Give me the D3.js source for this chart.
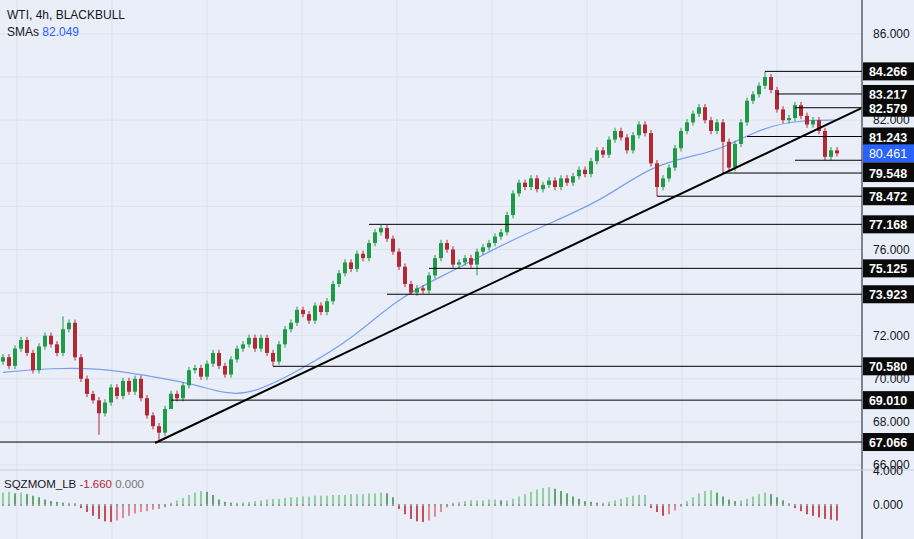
<!DOCTYPE html>
<html><head><meta charset="utf-8">
<script src="https://cdn.jsdelivr.net/npm/d3@7"></script>
<style>body{margin:0;background:#eaeef8}svg{display:block}text{font-family:"Liberation Sans",Arial,sans-serif}</style>
</head><body><svg id="c" width="914" height="539"></svg>
<script>
const closes=[71.0,70.6,71.4,71.8,71.2,70.4,71.5,72.0,71.6,71.2,72.3,72.6,71.0,70.0,69.3,69.0,68.4,68.9,69.6,69.2,69.9,69.4,70.0,69.1,68.3,67.8,67.5,68.6,69.3,69.1,69.7,70.4,70.5,70.1,70.7,71.2,70.6,70.2,70.9,71.4,71.6,71.9,71.4,71.9,71.2,70.8,71.6,72.3,72.6,73.2,73.0,72.7,73.4,73.1,73.6,74.4,74.9,75.4,75.1,75.8,75.6,76.3,76.8,77.0,76.5,75.9,75.2,74.4,74.0,74.2,74.1,74.8,75.6,76.3,76.0,75.3,75.4,75.6,75.3,75.9,76.1,76.3,76.6,76.8,77.6,78.6,79.1,78.9,79.3,78.8,79.0,79.2,78.9,79.3,79.1,79.4,79.7,79.5,80.1,80.6,80.4,81.1,81.5,81.2,80.6,81.3,81.8,81.4,80.0,78.9,79.3,79.8,80.7,81.5,81.9,82.3,82.6,82.0,81.5,81.9,81.0,79.8,80.9,81.9,82.9,83.2,83.6,84.0,83.4,82.5,82.0,82.1,82.7,82.2,81.8,82.0,81.5,80.3,80.6,80.46];
const firstOpen=70.8;
const wick=0.15;
const extremes=[{i:16,l:67.4},{i:26,l:67.066},{i:28,l:69.0},{i:45,l:70.58},{i:63,h:77.168},{i:68,l:73.923},{i:79,l:74.8},{i:109,l:78.472},{i:120,l:79.548},{i:127,h:84.266},{i:137,l:80.14},{i:10,h:72.9}];
const smaPts=[[0,70.3],[8,70.5],[16,70.5],[25,70.1],[33,69.7],[40,69.0],[50,70.5],[58,71.8],[66,73.8],[75,75.0],[83,76.2],[91,77.2],[100,78.3],[108,79.9],[116,80.4],[120,80.7],[127,81.7],[133,82.0],[139,82.0]];
const momentum=[1.6,1.7,1.5,1.6,1.4,1.2,1.0,0.7,0.5,0.4,0.3,0.3,0.2,-0.4,-0.9,-1.4,-1.8,-2.1,-2.2,-2.0,-1.7,-1.4,-1.1,-0.9,-0.8,-0.6,-0.5,-0.3,0.3,0.6,0.9,1.3,1.6,1.8,1.7,1.3,0.7,0.4,0.3,0.3,0.35,0.4,0.5,0.6,0.7,0.8,0.8,0.9,1.0,1.0,1.1,1.1,1.2,1.2,1.2,1.3,1.3,1.3,1.4,1.4,1.4,1.5,1.5,1.6,1.5,1.0,-0.5,-1.2,-1.8,-2.1,-2.2,-2.0,-1.5,-0.9,-0.3,0.3,0.4,0.5,0.6,0.6,0.6,0.7,0.7,0.6,0.6,0.8,1.1,1.4,1.7,2.0,2.2,2.3,2.1,1.8,1.5,1.1,0.8,0.5,0.4,0.3,0.3,0.4,0.6,0.8,1.0,1.2,1.3,1.3,-0.4,-0.9,-1.4,-1.2,-0.7,-0.2,0.5,1.0,1.5,1.8,1.9,1.6,1.1,0.7,0.5,0.6,0.8,1.1,1.4,1.6,1.4,1.0,0.6,0.2,-0.4,-0.8,-1.2,-1.4,-1.6,-1.8,-1.9,-2.0];
const levels=[{p:84.266,s:127},{p:83.217,s:129},{p:82.579,s:132},{p:81.243,s:124},{p:80.141,s:132},{p:79.548,s:120},{p:78.472,s:109},{p:77.168,s:61},{p:75.125,s:71},{p:73.923,s:64},{p:70.580,s:45},{p:69.010,s:28},{p:67.066,s:-1}];
const gridTicks=[86,84,82,80,78,76,74,72,70,68,66];
const priceTicks=[86,82,76,72,70,68,66];
const trend={i0:26,p0:67.066,i1:143,p1:82.55};
const lastPrice=80.461;

const svg=d3.select("#c");
const W=862,H=470;
const x=d3.scaleLinear().domain([0,139]).range([3,837]);
const y=d3.scaleLinear().domain([66,86]).range([465,34]);
const ym=d3.scaleLinear().domain([0,4]).range([505,474]);
svg.append("rect").attr("width",914).attr("height",539).attr("fill","#eaeef8");
const g=svg.append("g");
[17,112,207,302,397,492,587,682,777].forEach(v=>g.append("line").attr("x1",v).attr("x2",v).attr("y1",0).attr("y2",539).attr("stroke","#dde1ea"));
gridTicks.forEach(t=>g.append("line").attr("x1",0).attr("x2",W).attr("y1",y(t)).attr("y2",y(t)).attr("stroke","#dde1ea"));
const main=svg.append("g");
main.append("path").datum(smaPts).attr("fill","none").attr("stroke","#7b9ff0").attr("stroke-width",1.2)
 .attr("d",d3.line().x(d=>x(d[0])).y(d=>y(d[1])).curve(d3.curveBasis));
const candles=closes.map((c,i)=>{const o=i?closes[i-1]:firstOpen;let h=Math.max(o,c)+wick,l=Math.min(o,c)-wick;const e=extremes.find(e=>e.i===i);if(e){if(e.h)h=e.h;if(e.l)l=e.l;}return{i,o,c,h,l};});
const cg=main.selectAll("g.c").data(candles).join("g");
cg.append("line").attr("x1",d=>x(d.i)).attr("x2",d=>x(d.i)).attr("y1",d=>y(d.h)).attr("y2",d=>y(d.l)).attr("stroke",d=>d.c>=d.o?"#1f9a45":"#b22833");
cg.append("rect").attr("x",d=>x(d.i)-2).attr("width",4).attr("y",d=>y(Math.max(d.o,d.c))).attr("height",d=>Math.max(1,Math.abs(y(d.o)-y(d.c)))).attr("fill",d=>d.c>=d.o?"#1f9a45":"#b22833");
levels.forEach(l=>main.append("line").attr("x1",l.s<0?0:x(l.s)).attr("x2",W).attr("y1",y(l.p)).attr("y2",y(l.p)).attr("stroke","#000").attr("stroke-width",1));
main.append("line").attr("x1",x(trend.i0)-4).attr("y1",y(trend.p0)+1).attr("x2",x(trend.i1)).attr("y2",y(trend.p1)).attr("stroke","#000").attr("stroke-width",2);
const zs=ym(0);
svg.append("g").selectAll("rect").data(momentum).join("rect")
 .attr("x",(d,i)=>x(i)-1).attr("width",2)
 .attr("y",d=>d>=0?ym(d):zs).attr("height",d=>Math.abs(ym(d)-zs))
 .attr("fill",(d,i)=>{const p=i?momentum[i-1]:d;return d>=0?(d>=p?"#8fd19e":"#5fa56d"):(d<=p?"#c2505c":"#e08a95");});
svg.append("g").selectAll("rect").data(momentum).join("rect").attr("x",(d,i)=>x(i)-1).attr("width",2).attr("y",zs-1).attr("height",2).attr("fill","#9a9a9a");
svg.append("rect").attr("x",W).attr("y",0).attr("width",52).attr("height",539).attr("fill","#eaeef8");
svg.append("line").attr("x1",W).attr("x2",W).attr("y1",0).attr("y2",539).attr("stroke","#131722");
svg.append("line").attr("x1",0).attr("x2",914).attr("y1",470).attr("y2",470).attr("stroke","#c9ccd4");
priceTicks.forEach(t=>svg.append("text").attr("x",873).attr("y",y(t)+4).attr("font-size",12).attr("fill","#131722").text(t.toFixed(3)));
svg.append("text").attr("x",873).attr("y",ym(4)+1).attr("font-size",12).attr("fill","#131722").text("4.000");
svg.append("text").attr("x",873).attr("y",ym(0)+4).attr("font-size",12).attr("fill","#131722").text("0.000");
levels.filter(l=>l.p!==80.141).forEach(l=>{svg.append("rect").attr("x",W+1).attr("y",y(l.p)-9).attr("width",51).attr("height",18).attr("fill","#0a0a0a");
 svg.append("text").attr("x",888).attr("y",y(l.p)+5).attr("font-size",12.5).attr("font-weight","bold").attr("text-anchor","middle").attr("fill","#fff").text(l.p.toFixed(3));});
svg.append("rect").attr("x",W+1).attr("y",y(lastPrice)-9).attr("width",51).attr("height",18).attr("fill","#2962ff");
svg.append("rect").attr("x",W+1).attr("y",y(lastPrice)+9).attr("width",51).attr("height",4).attr("fill","#0a0a0a");
svg.append("text").attr("x",888).attr("y",y(lastPrice)+5).attr("font-size",12.5).attr("text-anchor","middle").attr("fill","#fff").text(lastPrice.toFixed(3));
svg.append("text").attr("x",7).attr("y",19).attr("font-size",12).attr("fill","#131722").text("WTI, 4h, BLACKBULL");
const t2=svg.append("text").attr("x",7).attr("y",36).attr("font-size",12).attr("fill","#131722");
t2.append("tspan").text("SMAs  ");t2.append("tspan").attr("fill","#2962ff").text("82.049");
const t3=svg.append("text").attr("x",4).attr("y",488).attr("font-size",11.5).attr("fill","#131722");
t3.append("tspan").text("SQZMOM_LB  ");t3.append("tspan").attr("fill","#b22833").text("-1.660");t3.append("tspan").attr("fill","#777").text("  0.000");
</script></body></html>
